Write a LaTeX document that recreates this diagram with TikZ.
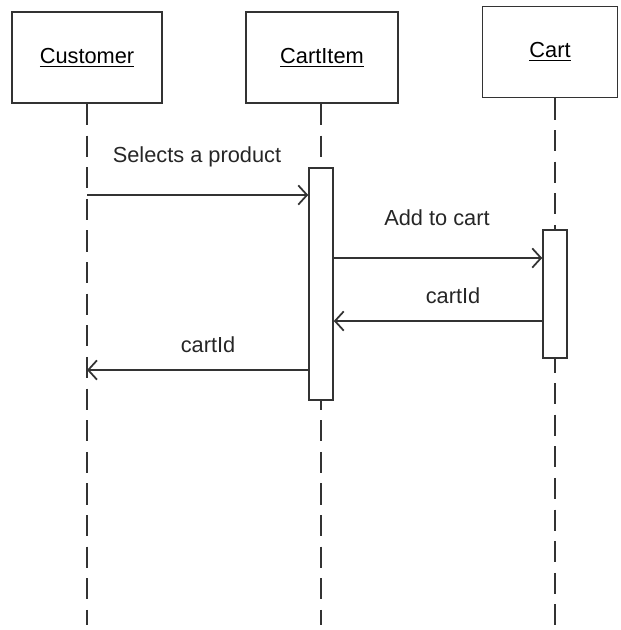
\documentclass[tikz,border=0pt]{standalone}
\usepackage{fontspec}
\setmainfont{Liberation Sans}
\usetikzlibrary{arrows.meta}

\begin{document}
\begin{tikzpicture}[x=0.02cm,y=-0.02cm,
    obj/.style={draw=black!80,line width=1.1pt,fill=white,minimum height=1.82cm,font=\fontsize{12.4}{14}\selectfont},
    lifeline/.style={draw=black!80,line width=1pt,dash pattern=on 12pt off 6pt},
    act/.style={draw=black!80,line width=0.9pt,fill=white,minimum width=0.48cm,inner sep=0pt},
    msg/.style={draw=black!80,line width=1pt,-{Straight Barb[length=5pt,width=11pt]}},
    lbl/.style={font=\fontsize{12.4}{14}\selectfont,text=black!85}]

  \useasboundingbox (0,0) rectangle (621,630);

  % objects
  \node[obj,minimum width=3cm]    (customer) at (87,57.5)  {\underline{Customer}};
  \node[obj,minimum width=3.04cm] (cartitem) at (322,57.5) {\underline{CartItem}};
  \node[obj,minimum width=2.7cm]  (cart)     at (550,52)   {\underline{Cart}};

  % lifelines
  \coordinate (customerEnd) at (87,625);
  \coordinate (cartitemEnd) at (321,625);
  \coordinate (cartEnd)     at (555,625);
  \draw[lifeline] (customer.south -| customerEnd) -- (customerEnd);
  \draw[lifeline] (cartitem.south -| cartitemEnd) -- (cartitemEnd);
  \draw[lifeline] (cart.south -| cartEnd) -- (cartEnd);

  % activations
  \node[act,minimum height=4.64cm] (actItem) at (321,284) {};
  \node[act,minimum height=2.56cm] (actCart) at (555,294) {};

  % messages
  \coordinate (selStart) at (87,195);
  \coordinate (addY)     at (0,258);
  \coordinate (retY)     at (0,321);
  \coordinate (retEnd)   at (87,370);

  \draw[msg] (selStart) -- (actItem.west |- selStart);
  \draw[msg] (actItem.east |- addY) -- (actCart.west |- addY);
  \draw[msg] (actCart.west |- retY) -- (actItem.east |- retY);
  \draw[msg] (actItem.west |- retEnd) -- (retEnd);

  \node[lbl] (selLabel)  at (197,157) {Selects a product};
  \node[lbl] (addLabel)  at (437,218) {Add to cart};
  \node[lbl] (retLabel)  at (453,296) {cartId};
  \node[lbl] (retLabel2) at (208,345) {cartId};

\end{tikzpicture}
\end{document}
